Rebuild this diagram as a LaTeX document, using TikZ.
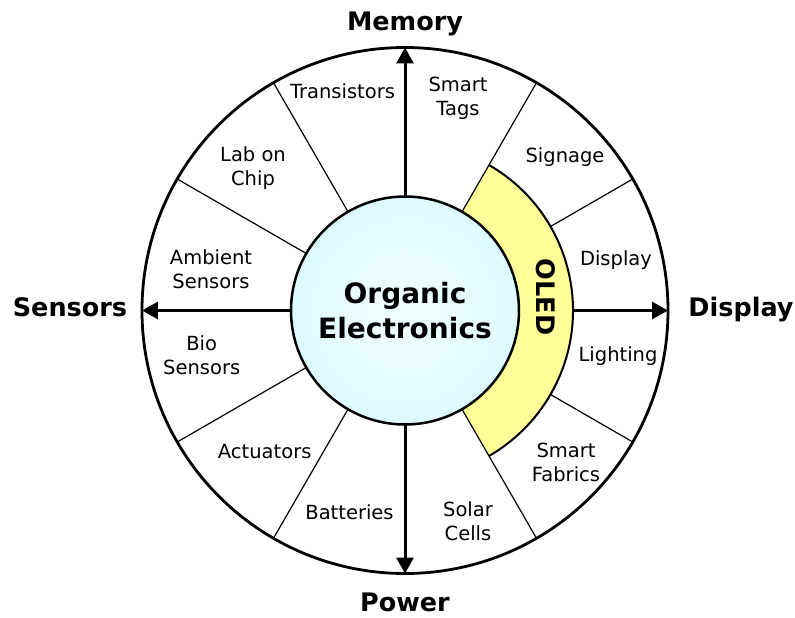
\documentclass[tikz,border=0pt]{standalone}
\usepackage{fontspec}
\setmainfont{DejaVu Sans}
\usetikzlibrary{arrows.meta}
\definecolor{oledfill}{RGB}{255,255,153}
\pgfdeclareradialshading{coreglow}{\pgfpoint{0bp}{0bp}}{rgb(0bp)=(0.95,1,1);rgb(18bp)=(0.89,0.985,1);rgb(50bp)=(0.77,0.955,0.985)}

\begin{document}
\begin{tikzpicture}[
  x=1pt,y=1pt,
  spoke/.style={line width=1.2pt},
  axis/.style={line width=3pt,-{Triangle[length=16pt,width=17pt]}},
  item/.style={font=\fontsize{19.5}{24}\selectfont,align=center,inner sep=0pt},
  topic/.style={font=\fontsize{25.5}{30}\selectfont\bfseries,inner sep=0pt},
  ring/.style={circle,draw,outer sep=0pt,inner sep=0pt},
]
\useasboundingbox (-405,-307.5) rectangle (390,310.5);

% outer wheel
\node[ring,line width=2.8pt,minimum size=526pt] (rim) at (0,0) {};

% OLED band on the display side
\fill[oledfill]
  (60:114) arc[start angle=60,end angle=-60,radius=114]
  -- (-60:168) arc[start angle=-60,end angle=60,radius=168] -- cycle;
\draw[line width=2pt] (60:168) arc[start angle=60,end angle=-60,radius=168];
\coordinate (b0) at (0:168);
\coordinate (b30) at (30:168);
\coordinate (bm30) at (-30:168);

% hub
\node[ring,line width=2.5pt,minimum size=228pt,shading=coreglow,
      font=\fontsize{28}{35}\selectfont\bfseries,align=center] (core) at (0,0)
      {Organic\\Electronics};

% dividing spokes
\foreach \a in {60,120,150,210,240,300}
  \draw[spoke] (core.\a) -- (rim.\a);
\draw[spoke] (b30) -- (rim.30);
\draw[spoke] (bm30) -- (rim.-30);

% main axes
\draw[axis] (core.north) -- (rim.north);
\draw[axis] (core.south) -- (rim.south);
\draw[axis] (core.west) -- (rim.west);
\draw[axis] (b0) -- (rim.east);

% OLED label
\node[font=\fontsize{25.5}{30}\selectfont\bfseries,rotate=-90,inner sep=0pt] (oled) at (141,13.5) {OLED};

% axis titles
\node[topic] (memory) at (0,286.5) {Memory};
\node[topic] (power) at (0,-291.5) {Power};
\node[topic] (sensors) at (-335,3.5) {Sensors};
\node[topic] (display) at (336,0.5) {Display};

% application sectors
\node[item] (transistors) at (-62.5,219) {Transistors};
\node[item] (tags) at (53,212) {Smart\\Tags};
\node[item] (signage) at (160,153) {Signage};
\node[item] (displayapp) at (211,50.5) {Display};
\node[item] (lighting) at (213,-46) {Lighting};
\node[item] (fabrics) at (161,-151.5) {Smart\\Fabrics};
\node[item] (solar) at (63,-211) {Solar\\Cells};
\node[item] (batteries) at (-55.5,-201.5) {Batteries};
\node[item] (actuators) at (-140.3,-141.5) {Actuators};
\node[item] (bio) at (-203.3,-44.5) {Bio\\Sensors};
\node[item] (ambient) at (-194,41.5) {Ambient\\Sensors};
\node[item] (lab) at (-152,142) {Lab on\\Chip};
\end{tikzpicture}
\end{document}
